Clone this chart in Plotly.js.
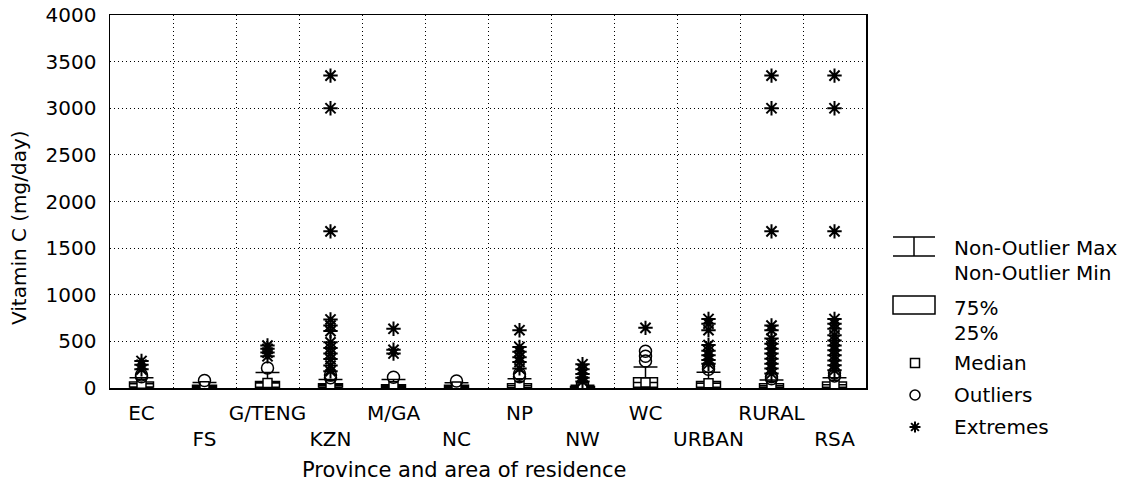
<!DOCTYPE html>
<html><head><meta charset="utf-8">
<script src="https://cdn.plot.ly/plotly-3.0.1.min.js"></script>
<style>html,body{margin:0;padding:0;background:#fff}#chart{width:1134px;height:491px}</style>
</head><body><div id="chart"></div>
<script>
// ---- data (mg/day) ----
const categories = ["EC","FS","G/TENG","KZN","M/GA","NC","NP","NW","WC","URBAN","RURAL","RSA"];
const tickLabels = ["EC","<br>FS","G/TENG","<br>KZN","M/GA","<br>NC","NP","<br>NW","WC","<br>URBAN","RURAL","<br>RSA"];
const q1Values     = [10, 5,  7, 11,  4,  3,  4,  2,   8,   7,  5,   7];
const medianValues = [45, 18, 54, 30, 20, 15, 25,  8,  60,  50, 25,  35];
const q3Values     = [65, 30, 71, 46, 36, 30, 46, 15, 110,  71, 46,  64];
const minValues    = [0,  0,  0,  0,  0,  0,  0,  0,   0,   0,  0,   0];
const maxValues    = [110,60,165, 90, 90, 55,100, 30, 225, 170, 85, 110];
const outlierValues = [[120,140],[80],[215],[110,140],[115],[75],[120,150],[40],[290,340,395],[200,230],[100,120],[130,160]];
const extremeValues = [
  [200,250,290],
  [],
  [340,380,420,455],
  [180,240,310,370,430,490,610,670,735,1680,3000,3350],
  [370,410,635],
  [],
  [210,280,330,390,440,620],
  [70,110,150,200,255],
  [645],
  [260,300,350,400,460,620,690,740],
  [155,210,260,315,370,420,475,530,620,670,1680,3000,3350],
  [190,245,295,350,405,455,510,565,635,690,740,1680,3000,3350]
];
const legendLabels = ["Non-Outlier Max","Non-Outlier Min","75%","25%","Median","Outliers","Extremes"];

// ---- geometry helpers (plot area in pixels) ----
const W = 1134, H = 491;
const PL = 110, PR = 866, PT = 15, PB = 388;
const fx = px => (px - PL) / (PR - PL);
const fy = py => (PB - py) / (PB - PT);
const FONT = "DejaVu Sans";

function flatten(groups) {
  const xs = [], ys = [];
  groups.forEach((g, i) => g.forEach(v => { xs.push(categories[i]); ys.push(v); }));
  return {xs, ys};
}
const out = flatten(outlierValues);
const ext = flatten(extremeValues);

const traces = [
  {
    type: "box", x: categories,
    q1: q1Values, median: medianValues, q3: q3Values,
    lowerfence: minValues, upperfence: maxValues,
    boxpoints: false, width: 0.38, whiskerwidth: 1,
    fillcolor: "#ffffff", line: {color: "#000", width: 1.5},
    hoverinfo: "skip", showlegend: false
  },
  {
    type: "scatter", mode: "markers", x: categories, y: medianValues,
    marker: {symbol: "square", size: 9, color: "#fff", line: {color: "#000", width: 1.5}},
    showlegend: false, hoverinfo: "skip"
  },
  {
    type: "scatter", mode: "markers", x: out.xs, y: out.ys,
    marker: {symbol: "circle-open", size: 12, color: "#000", line: {color: "#000", width: 1.5}},
    showlegend: false, hoverinfo: "skip"
  },
  {
    type: "scatter", mode: "markers", x: ext.xs, y: ext.ys,
    marker: {symbol: "asterisk-open", size: 12, color: "#000", line: {color: "#000", width: 2}},
    showlegend: false, hoverinfo: "skip"
  }
];

// ---- legend drawn by hand on the right ----
const lw = {color: "#000", width: 1.5};
function lineShape(x0, y0, x1, y1) {
  return {type: "line", xref: "paper", yref: "paper", x0: fx(x0), y0: fy(y0), x1: fx(x1), y1: fy(y1), line: lw};
}
const shapes = [
  lineShape(893, 237, 935, 237),
  lineShape(893, 256, 935, 256),
  lineShape(914, 237, 914, 256),
  {type: "rect", xref: "paper", yref: "paper", x0: fx(893), y0: fy(296), x1: fx(935), y1: fy(314), line: lw, fillcolor: "#fff"},
  {type: "rect", xref: "paper", yref: "paper", x0: fx(910.5), y0: fy(358.5), x1: fx(919.5), y1: fy(367.5), line: lw},
  {type: "circle", xref: "paper", yref: "paper", x0: fx(910), y0: fy(390), x1: fx(920), y1: fy(400), line: lw}
];
(function () {
  const cx = 915, cy = 427, r = 5.5, d = r * 0.7071;
  const segs = [[cx, cy - r, cx, cy + r], [cx - r, cy, cx + r, cy], [cx - d, cy - d, cx + d, cy + d], [cx - d, cy + d, cx + d, cy - d]];
  segs.forEach(s => shapes.push({type: "line", xref: "paper", yref: "paper", x0: fx(s[0]), y0: fy(s[1]), x1: fx(s[2]), y1: fy(s[3]), line: {color: "#000", width: 2}}));
})();

const legendY = [248, 273, 308, 333, 363, 395, 427];
const annotations = legendLabels.map((t, i) => ({
  text: t, xref: "paper", yref: "paper", x: fx(952), y: fy(legendY[i]),
  xanchor: "left", yanchor: "middle", showarrow: false,
  font: {family: FONT, size: 20, color: "#000"}
}));
annotations.push({
  text: "Vitamin C (mg/day)", textangle: -90, xref: "paper", yref: "paper",
  x: fx(19), y: fy(228), xanchor: "center", yanchor: "middle", showarrow: false,
  font: {family: FONT, size: 20, color: "#000"}
});
annotations.push({
  text: "Province and area of residence", xref: "paper", yref: "paper",
  x: fx(464), y: fy(470), xanchor: "center", yanchor: "middle", showarrow: false,
  font: {family: FONT, size: 21, color: "#000"}
});

const layout = {
  width: W, height: H,
  margin: {l: PL, r: W - PR, t: PT, b: H - PB, pad: 0},
  paper_bgcolor: "#fff", plot_bgcolor: "#fff",
  showlegend: false,
  font: {family: FONT, size: 20, color: "#000"},
  xaxis: {
    type: "category", categoryorder: "array", categoryarray: categories,
    range: [-0.5, 11.5], tickmode: "array", tickvals: categories, ticktext: tickLabels,
    tickangle: 0, automargin: false,
    tickson: "boundaries", ticks: "", showgrid: true, gridcolor: "#000", gridwidth: 1, griddash: "1px,3px",
    showline: true, linecolor: "#000", linewidth: 1.5, mirror: true, zeroline: false,
    tickfont: {family: FONT, size: 20, color: "#000"}, ticklabelstandoff: 6,
    fixedrange: true
  },
  yaxis: {
    range: [0, 4000], dtick: 500, tick0: 0, ticks: "", automargin: false,
    showgrid: true, gridcolor: "#000", gridwidth: 1, griddash: "1px,3px",
    showline: true, linecolor: "#000", linewidth: 1.5, mirror: true, zeroline: false,
    tickfont: {family: FONT, size: 20, color: "#000"}, ticklabelstandoff: 8,
    fixedrange: true
  },
  shapes: shapes,
  annotations: annotations
};

Plotly.newPlot("chart", traces, layout, {displayModeBar: false, staticPlot: true});
</script>
</body></html>
